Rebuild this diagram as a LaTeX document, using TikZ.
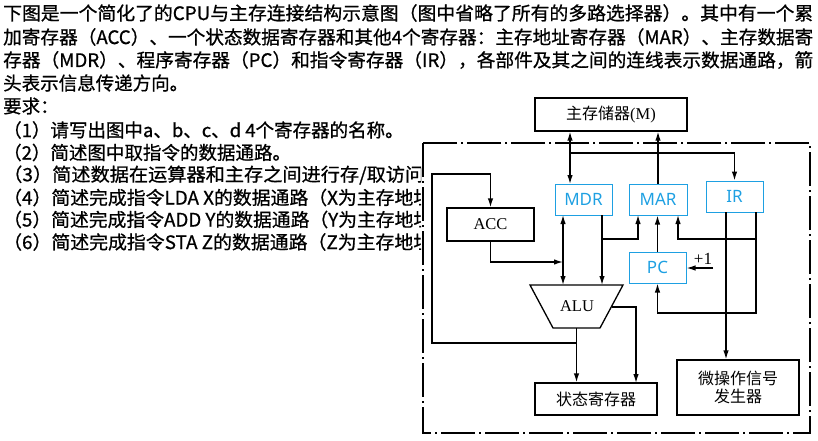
\documentclass[tikz,border=0pt]{standalone}
\usepackage{fontspec}
\usepackage{graphicx}
\usetikzlibrary{arrows.meta}
\newfontfamily\cjk{Noto Sans CJK SC}
\newfontfamily\cjkp{Noto Sans CJK SC}[FakeBold=0.8]
\newfontfamily\serifc{Liberation Serif}
\newfontfamily\regsans{Noto Sans}
\definecolor{regblue}{RGB}{30,160,226}
\begin{document}
\begin{tikzpicture}[x=1pt,y=-1pt,
  para/.style={anchor=west, inner sep=0pt, font=\cjkp\fontsize{18.5}{22}\selectfont},
  box/.style={draw, line width=1.3pt, inner sep=0pt, rectangle},
  cjkbox/.style={box, font=\cjk\fontsize{16}{19}\selectfont},
  serbox/.style={box, font=\serifc\fontsize{16.5}{19}\selectfont},
  reg/.style={draw=regblue, line width=1pt, inner sep=0pt, rectangle, text=regblue,
              minimum width=57pt, minimum height=31pt, font=\regsans\fontsize{17}{20}\selectfont},
  wire/.style={line width=1.3pt},
  arr/.style={wire, -{Latex[length=9pt,width=5.5pt]}},
  arrb/.style={wire, {Latex[length=9pt,width=5.5pt]}-{Latex[length=9pt,width=5.5pt]}},
  frame/.style={line width=1.5pt, dash pattern=on 34pt off 4pt on 2pt off 4pt}]
\useasboundingbox (0,0) rectangle (818,441);

% ---------- question text ----------
\node[para] (t1) at (3,13) {\resizebox{810pt}{\height}{下图是一个简化了的CPU与主存连接结构示意图（图中省略了所有的多路选择器）。其中有一个累}};
\node[para] (t2) at (3,37) {\resizebox{810pt}{\height}{加寄存器（ACC）、一个状态数据寄存器和其他4个寄存器：主存地址寄存器（MAR）、主存数据寄}};
\node[para] (t3) at (3,60) {\resizebox{810pt}{\height}{存器（MDR）、程序寄存器（PC）和指令寄存器（IR），各部件及其之间的连线表示数据通路，箭}};
\node[para] (t4) at (3,83) {头表示信息传递方向。};
\node[para] (t5) at (3,106) {要求：};
\node[para] (q1) at (3,130) {（1）请写出图中a、b、c、d 4个寄存器的名称。};
\node[para] (q2) at (3,152.5) {（2）简述图中取指令的数据通路。};
\begin{scope}
\clip (0,160) rectangle (421,260);
\node[para] (q3) at (3,175) {\resizebox{421pt}{\height}{（3）简述数据在运算器和主存之间进行存/取访问}};
\node[para] (q4) at (3,197.5) {\resizebox{429pt}{\height}{（4）简述完成指令LDA X的数据通路（X为主存地址}};
\node[para] (q5) at (3,219.5) {\resizebox{429pt}{\height}{（5）简述完成指令ADD Y的数据通路（Y为主存地址}};
\node[para] (q6) at (3,242) {\resizebox{429pt}{\height}{（6）简述完成指令STA Z的数据通路（Z为主存地址}};
\end{scope}

% ---------- diagram ----------
\draw[frame] (423,143) rectangle (810,433);

\node[box, minimum width=152pt, minimum height=33pt] (M) at (611,114.5)
  {{\cjk\fontsize{16}{19}\selectfont 主存储器}{\serifc\fontsize{16.5}{19}\selectfont (M)}};
\node[reg] (MDR) at (583.5,199.5) {MDR};
\node[reg, minimum width=58pt] (MAR) at (658,199.5) {MAR};
\node[reg] (IR) at (734.5,196.5) {IR};
\node[reg] (PC) at (657.5,267.5) {PC};
\node[serbox, minimum width=87pt, minimum height=33pt] (ACC) at (490.5,224.5) {ACC};
\node[cjkbox, minimum width=122pt, minimum height=32pt] (St) at (596,399) {状态寄存器};
\node[cjkbox, minimum width=122pt, minimum height=55pt, align=center] (Mi) at (738,387.5) {微操作信号\\[-1pt]发生器};

% ALU trapezoid
\draw[line width=1.3pt] (530,285) -- (623,285) -- (600,328) -- (553,328) -- cycle;
\node[font=\serifc\fontsize{16.5}{19}\selectfont, inner sep=0pt] (alu) at (577,306.5) {ALU};

% ports and junctions
\coordinate (mdrT) at (570,184);
\coordinate (busJ) at (570,153);
\coordinate (aluB) at (576.5,328);
\coordinate (loopJ) at (576.5,343);
\coordinate (lp1) at (432,343);
\coordinate (lp2) at (432,174);
\coordinate (accJ) at (563,262);
\coordinate (aluT1) at (563,285);
\coordinate (mdrB1) at (563,215);
\coordinate (mdrB2) at (602,215);
\coordinate (aluT2) at (602,285);
\coordinate (brJ) at (602,239);
\coordinate (marB1) at (638,215);
\coordinate (irB1) at (726,212);
\coordinate (irB2) at (756,212);
\coordinate (irC) at (756,313);
\coordinate (irJ) at (756,239);
\coordinate (marB2) at (678,215);
\coordinate (inc) at (713,268);
\coordinate (aluR) at (611.5,307);
\coordinate (stT2) at (636,383);

% connectors
\draw[arrb] (mdrT) -- (mdrT |- M.south);
\draw[arr] (busJ) -| (IR.north);
\draw[arr] (MAR.north) -- (MAR.north |- M.south);
\draw[arr] (aluB) -- (aluB |- St.north);
\draw[arr] (loopJ) -- (lp1) -- (lp2) -| (ACC.north);
\draw[arr] (ACC.south) |- (accJ);
\draw[arrb] (aluT1) -- (mdrB1);
\draw[arr] (mdrB2) -- (aluT2);
\draw[arr] (brJ) -| (marB1);
\draw[arr] (PC.north) -- (PC.north |- MAR.south);
\draw[arr] (irB1) -- (irB1 |- Mi.north);
\draw[arr] (irB2) -- (irC) -| (PC.south);
\draw[arr] (irJ) -| (marB2);
\draw[arr] (inc) -- (inc -| PC.east);
\node[font=\serifc\fontsize{17}{19}\selectfont, inner sep=0pt] (plus1) at (703,259) {+1};
\draw[arr] (aluR) -| (stT2);
\end{tikzpicture}
\end{document}
